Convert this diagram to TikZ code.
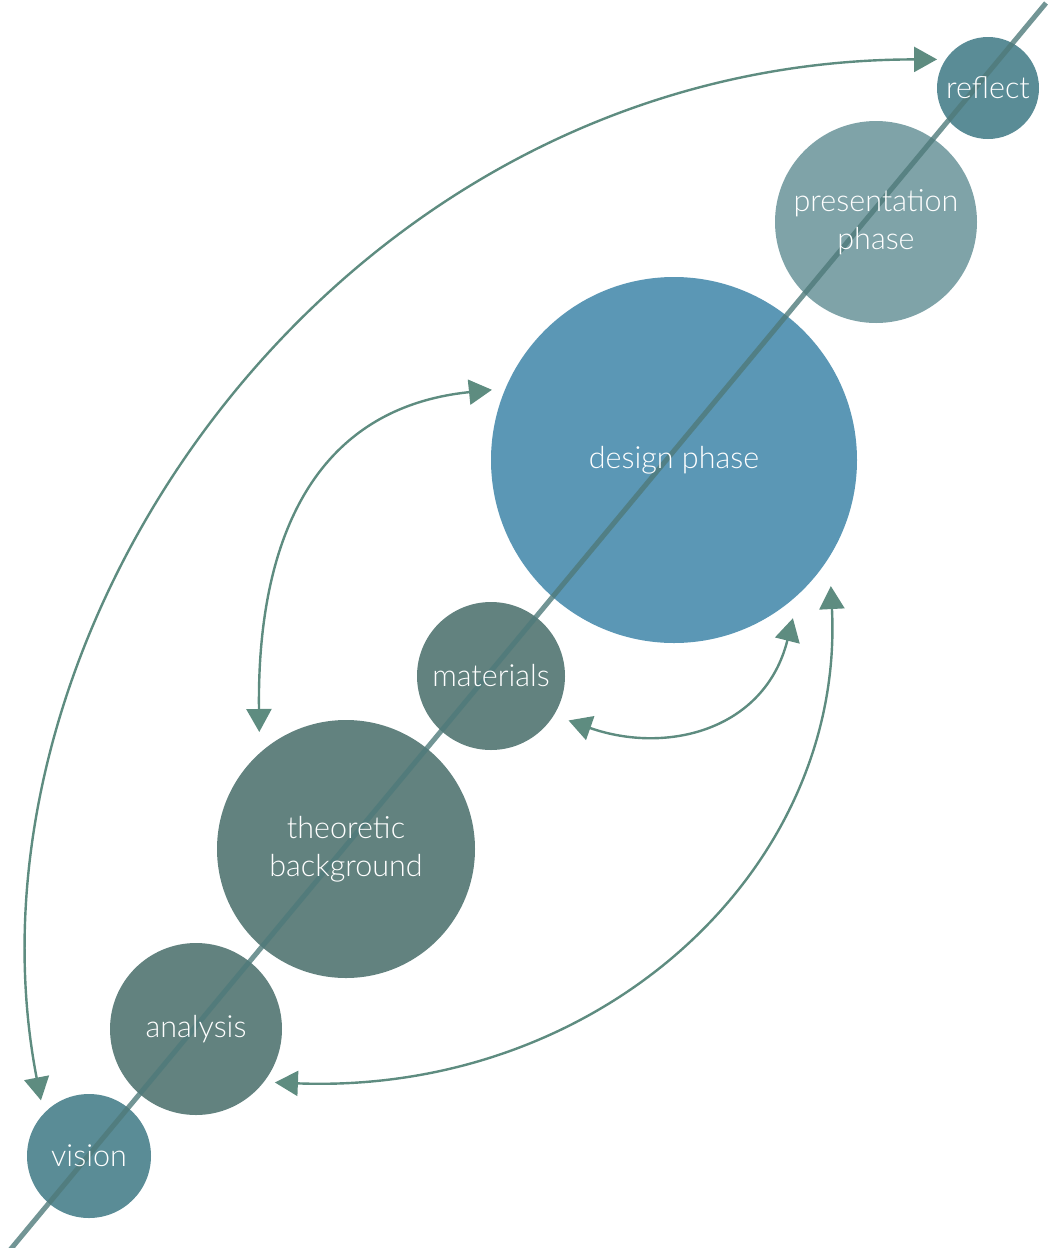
\documentclass[tikz,border=0pt]{standalone}
\usepackage{fontspec}
\setmainfont{Lato Light}
\usetikzlibrary{arrows.meta}
\definecolor{cReflect}{HTML}{5A8C96}
\definecolor{cPres}{HTML}{7FA3A8}
\definecolor{cDesign}{HTML}{5B97B5}
\definecolor{cGreen}{HTML}{62827F}
\definecolor{cVision}{HTML}{5A8C96}
\definecolor{cLine}{HTML}{4F7A7A}
\definecolor{cArrow}{HTML}{5E8C80}
\tikzset{
  bubble/.style={circle, inner sep=0pt},
  caption/.style={text=white, align=center, inner sep=0pt,
    font=\fontsize{30.5}{38}\selectfont},
  link/.style={draw=cArrow, line width=2.4pt,
    {Triangle[length=23pt,width=25pt]}-{Triangle[length=23pt,width=25pt]}},
  axis/.style={draw=cLine, line width=5pt, opacity=0.8}
}
\begin{document}
\begin{tikzpicture}[x=1pt,y=-1pt]
\useasboundingbox (0,0) rectangle (1049,1248);
% circles
\node[bubble, fill=cReflect, minimum size=102pt] (reflect) at (988,88) {};
\node[bubble, fill=cPres, minimum size=202pt] (pres) at (876,222) {};
\node[bubble, fill=cDesign, minimum size=366pt] (design) at (674,460) {};
\node[bubble, fill=cGreen, minimum size=148pt] (materials) at (491,676) {};
\node[bubble, fill=cGreen, minimum size=258pt] (theory) at (346,849) {};
\node[bubble, fill=cGreen, minimum size=172pt] (analysis) at (196,1029) {};
\node[bubble, fill=cVision, minimum size=124pt] (vision) at (89,1156) {};
% axis line
\coordinate (ls) at (10,1250);
\coordinate (le) at (1046,3);
\draw[axis] (ls) -- (le);
% captions
\node[caption] (reflectT) at (reflect) {reflect};
\node[caption] (presT) at (pres) {presentation\\phase};
\node[caption] (designT) at (design) {design phase};
\node[caption] (materialsT) at (materials) {materials};
\node[caption] (theoryT) at (theory) {theoretic\\background};
\node[caption] (analysisT) at (analysis) {analysis};
\node[caption] (visionT) at (vision) {vision};
% connectors
\draw[link, shorten <=13.5pt, shorten >=8.5pt] (vision.137.5) .. controls (-51,623) and (345,60) .. (reflect.146.7);
\draw[link, shorten <=13.5pt, shorten >=21pt] (design.157) .. controls (305,409) and (257,554) .. (theory.132.5);
\draw[link, shorten <=15.5pt, shorten >=25pt] (materials.-32.7) .. controls (667,755) and (765,730) .. (design.-47);
\draw[link, shorten <=11pt, shorten >=29pt] (analysis.-38) .. controls (600,1095) and (845,870) .. (design.-32.7);
\end{tikzpicture}
\end{document}
